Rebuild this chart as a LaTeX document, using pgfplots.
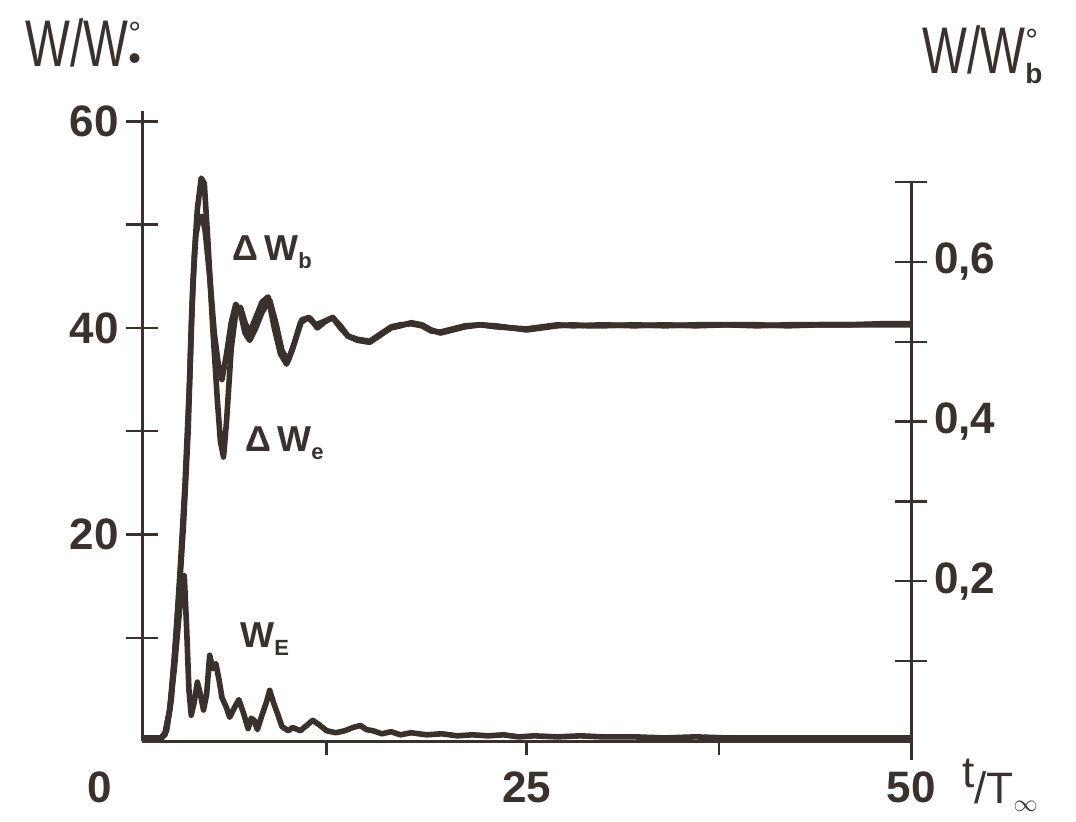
\documentclass[border=0pt]{standalone}
\usepackage{pgfplots}
\pgfplotsset{compat=1.18}
\usepackage{fontspec}
\setmainfont{Liberation Sans}
\definecolor{ink}{HTML}{3A302C}

\pgfplotstableread{
t v
0 0.3
1.2 0.3
1.5 0.6
1.8 3
2.1 8
2.4 14
2.7 21
3.0 30
3.2 40
3.4 47
3.6 51.5
3.85 54.5
4.05 54
4.3 48
4.6 40
4.9 33
5.1 29
5.3 27.5
5.5 31
5.8 38
6.1 41.5
6.4 42
6.7 40.5
7.0 39.5
7.4 41
7.8 42.5
8.2 43
8.6 40
9.0 37.5
9.4 36.5
9.8 38
10.3 40.5
10.8 41
11.3 40.3
11.8 40.6
12.4 41
12.9 40
13.4 39.2
14.0 38.8
14.8 38.6
15.5 39.3
16.2 40.0
16.8 40.2
17.5 40.5
18.2 40.3
18.8 39.8
19.4 39.5
20.2 39.8
21.0 40.1
22.0 40.3
23.0 40.2
24.0 40.0
25.0 39.8
26.0 40.0
27.0 40.2
28.0 40.3
29.0 40.2
30 40.2
32 40.3
34 40.2
36 40.3
38 40.3
40 40.2
42 40.3
44 40.3
46 40.3
48 40.3
50 40.3
}\dWe

\pgfplotstableread{
t v
0 0.3
1.3 0.3
1.6 1
1.9 4
2.2 10
2.5 17
2.8 25
3.1 35
3.3 44
3.5 49
3.7 50.5
3.9 50.8
4.1 49.5
4.4 45
4.7 39.5
5.0 36
5.2 35
5.5 37.5
5.8 40.5
6.1 42.3
6.4 41.5
6.7 39.5
7.0 38.8
7.4 40
7.8 41.5
8.3 42.7
8.7 40.5
9.1 37.8
9.5 36.8
9.9 38.5
10.4 40.8
10.9 41
11.4 40
11.9 40.6
12.4 41
12.9 40.2
13.4 39.2
14.0 38.9
14.8 38.7
15.5 39.4
16.2 40.1
16.8 40.3
17.5 40.4
18.2 40.2
18.8 39.7
19.4 39.6
20.2 39.9
21.0 40.2
22.0 40.3
23.0 40.1
24.0 40.0
25.0 39.9
26.0 40.1
27.0 40.3
28.0 40.2
30 40.3
32 40.2
34 40.3
36 40.2
38 40.3
40 40.3
42 40.2
44 40.3
46 40.3
48 40.4
50 40.4
}\dWb

\pgfplotstableread{
t v
0 0.2
1.2 0.2
1.5 0.8
1.8 3
2.1 7
2.4 12
2.6 15.5
2.75 16
2.9 11
3.05 5
3.2 2.5
3.4 3.8
3.6 5.7
3.8 4.5
4.0 3.0
4.2 4.5
4.4 8.3
4.6 7.0
4.8 7.5
5.0 6
5.2 4.2
5.5 3.2
5.7 2.3
6.0 3.2
6.3 4.0
6.6 2.7
6.9 1.2
7.1 2.2
7.3 2.0
7.5 1.1
7.8 2.5
8.1 3.8
8.3 4.9
8.6 3.5
8.8 2.7
9.1 1.4
9.5 1.0
9.8 1.3
10.3 1.0
10.7 1.5
11.1 2.0
11.5 1.6
12.0 1.0
12.6 0.8
13.2 1.0
13.7 1.3
14.2 1.5
14.6 1.1
15.0 1.0
15.6 0.7
16.2 0.9
16.8 0.6
17.5 0.8
18.5 0.6
19.5 0.7
20.5 0.5
21.5 0.6
22.5 0.5
23.5 0.6
24.5 0.4
25.5 0.5
27 0.4
28.5 0.5
30 0.4
32 0.4
34 0.3
36 0.4
38 0.3
40 0.3
43 0.3
46 0.3
50 0.3
}\WE

\begin{document}
\begin{tikzpicture}[x=1pt,y=1pt]
\useasboundingbox (0,0) rectangle (538,410.5);
\begin{axis}[
  at={(71pt,40pt)}, anchor=south west,
  scale only axis, width=384.5pt, height=315pt,
  xmin=0, xmax=50, ymin=0, ymax=61,
  clip=false,
  axis x line*=bottom, axis y line*=left,
  axis line style={ink, line width=1.5pt},
  xtick={12,25,37.5,50}, xticklabels={,25,,50},
  extra x ticks={0}, extra x tick labels={0},
  extra x tick style={xtick style={draw=none}, xticklabel style={xshift=-21pt}},
  ytick={10,20,30,40,50,60}, yticklabels={,20,,40,,60},
  xtick align=outside, ytick align=center,
  major tick length=16pt,
  xtick style={ink, line width=1.2pt, /pgfplots/major tick length=7pt},
  ytick style={ink, line width=1.2pt},
  ticklabel style={font=\fontsize{22}{26}\selectfont\bfseries, text=ink},
  xticklabel style={yshift=4pt},
  /pgf/number format/assume math mode=true,
]
\addplot[ink, line width=2.8pt, line join=round] table[x=t,y=v] {\WE};
\addplot[ink, line width=2.8pt, line join=round] table[x=t,y=v] {\dWe};
\addplot[ink, line width=2.8pt, line join=round] table[x=t,y=v] {\dWb};
\end{axis}
\begin{axis}[
  at={(71pt,30.5pt)}, anchor=south west,
  scale only axis, width=384.5pt, height=289pt,
  xmin=0, xmax=50, ymin=-0.0238, ymax=0.7,
  axis x line=none, axis y line*=right,
  axis line style={ink, line width=1.5pt},
  ytick={0.1,0.2,0.3,0.4,0.5,0.6,0.7}, yticklabels={,{0,2},,{0,4},,{0,6},},
  ytick align=center, major tick length=16pt,
  ytick style={ink, line width=1.2pt},
  ticklabel style={font=\fontsize{22}{26}\selectfont\bfseries, text=ink},
]
\end{axis}
\node[anchor=base west, text=ink, inner sep=0pt] at (12.5,377) {\scalebox{0.72}[1]{\fontsize{33}{36}\selectfont W/W}\rlap{\raisebox{11pt}{\fontsize{16}{16}\selectfont °}}\raisebox{-2pt}{\fontsize{18}{18}\selectfont •}};
\node[anchor=base west, text=ink, inner sep=0pt] at (461,373.5) {\scalebox{0.72}[1]{\fontsize{33}{36}\selectfont W/W}\rlap{\raisebox{11pt}{\fontsize{16}{16}\selectfont °}}\raisebox{-5pt}{\fontsize{14}{14}\selectfont\bfseries b}};
\node[anchor=base west, text=ink, inner sep=0pt] at (481,9) {\fontsize{22}{26}\selectfont\raisebox{8pt}{t}/T\raisebox{-4pt}{\fontsize{12}{12}\selectfont $\infty$}};
\node[anchor=base west, text=ink, inner sep=0pt] at (116,280) {\fontsize{18}{20}\selectfont\bfseries Δ\,W\raisebox{-4pt}{\fontsize{11}{11}\selectfont b}};
\node[anchor=base west, text=ink, inner sep=0pt] at (122.5,185) {\fontsize{18}{20}\selectfont\bfseries Δ\,W\raisebox{-4pt}{\fontsize{11}{11}\selectfont e}};
\node[anchor=base west, text=ink, inner sep=0pt] at (120,87) {\fontsize{18}{20}\selectfont\bfseries W\raisebox{-4pt}{\fontsize{11}{11}\selectfont E}};
\end{tikzpicture}
\end{document}
